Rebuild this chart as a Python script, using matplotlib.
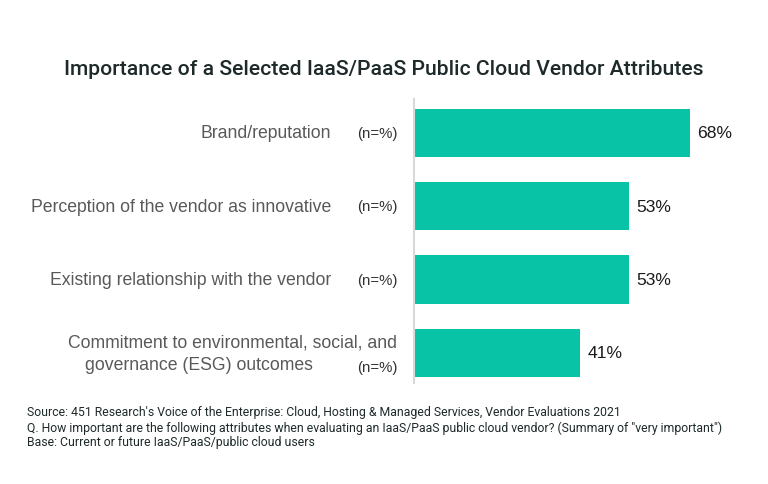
import matplotlib.pyplot as plt

# data
attributes = [
    "Brand/reputation",
    "Perception of the vendor as innovative",
    "Existing relationship with the vendor",
    "Commitment to environmental, social, and\ngovernance (ESG) outcomes",
]
values = [68, 53, 53, 41]
value_labels = ["68%", "53%", "53%", "41%"]
n_label = "(n=%)"

bar_color = "#08c3a5"
narrow = ["Roboto", "DejaVu Sans"]

fig = plt.figure(figsize=(7.68, 4.85), dpi=100)
ax = fig.add_axes([414 / 768, 1 - 384 / 485, 345 / 768, 284 / 485])

y = range(len(values))
bars = ax.barh(y, values, height=0.655, color=bar_color)
ax.set_xlim(0, 85)
ax.set_ylim(3.41, -0.46)

for b, lab in zip(bars, value_labels):
    ax.text(b.get_width() + 1.7, b.get_y() + b.get_height() / 2, lab,
            va="center", ha="left", fontsize=12.6, color="#1a1a1a",
            family="Liberation Sans")

# category labels on the left
for i, name in enumerate(attributes):
    if "\n" in name:
        first, second = name.split("\n")
        ax.text(-4.1, i - 0.15, first, ha="right", va="center", fontsize=12.7,
                color="#595959", family="Liberation Sans")
        ax.text(-24.9, i + 0.16, second, ha="right", va="center", fontsize=12.7,
                color="#595959", family="Liberation Sans")
        ax.text(-4.1, i + 0.19, n_label, ha="right", va="center", fontsize=10.8,
                color="#333333", family="Liberation Sans")
    else:
        ax.text(-20.5, i, name, ha="right", va="center", fontsize=12.7,
                color="#595959", family="Liberation Sans")
        ax.text(-4.1, i, n_label, ha="right", va="center", fontsize=10.8,
                color="#333333", family="Liberation Sans")

for s in ["top", "right", "bottom"]:
    ax.spines[s].set_visible(False)
ax.spines["left"].set_color("#d9d9d9")
ax.spines["left"].set_linewidth(1.5)
ax.set_xticks([])
ax.set_yticks([])

fig.text(0.5, 1 - 70 / 485, "Importance of a Selected IaaS/PaaS Public Cloud Vendor Attributes",
         ha="center", va="center", fontsize=15.2, color="#1e2a2a",
         family=narrow, fontweight="medium")

notes = [
    "Source: 451 Research's Voice of the Enterprise: Cloud, Hosting & Managed Services, Vendor Evaluations 2021",
    "Q. How important are the following attributes when evaluating an IaaS/PaaS public cloud vendor? (Summary of \"very important\")",
    "Base: Current or future IaaS/PaaS/public cloud users",
]
for k, line in enumerate(notes):
    fig.text(27 / 768, 1 - (413 + 15 * k) / 485, line, ha="left", va="center",
             fontsize=8.8, color="#1e2a2a", family=narrow)

fig.savefig("out.png", dpi=100, facecolor="white")
